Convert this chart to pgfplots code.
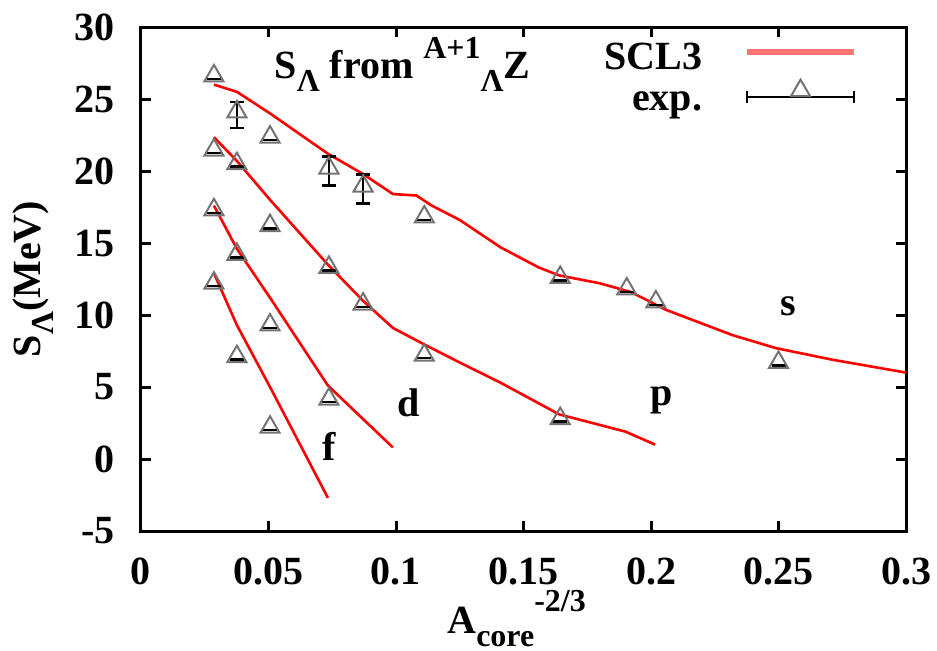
\documentclass[border=0pt]{standalone}
\usepackage{fontspec}
\setmainfont{Liberation Serif}
\usepackage{pgfplots}
\pgfplotsset{compat=1.18}
\usepackage{pgfplotstable}

% SCL3 curves for the s, p, d and f Lambda orbits
\pgfplotstableread{
x y
0.0286 26.0
0.0376 25.5
0.0506 24.0
0.0733 21.2
0.0870 19.8
0.0988 18.4
0.1080 18.3
0.1140 17.6
0.1250 16.6
0.1410 14.7
0.1560 13.3
0.1640 12.75
0.1800 12.2
0.1920 11.6
0.1960 11.25
0.2060 10.35
0.2320 8.6
0.2490 7.7
0.2710 6.9
0.3000 6.0
}\sorbit
\pgfplotstableread{
x y
0.0286 22.35
0.0376 20.7
0.0506 18.0
0.0733 13.5
0.0870 11.0
0.0988 9.1
0.1106 8.0
0.1250 6.7
0.1410 5.3
0.1640 3.1
0.1900 1.9
0.2016 1.0
}\porbit
\pgfplotstableread{
x y
0.0286 17.6
0.0376 14.6
0.0506 11.2
0.0733 5.1
0.0988 0.8
}\dorbit
\pgfplotstableread{
x y
0.0286 12.9
0.0376 9.3
0.0506 5.0
0.0733 -2.7
}\forbit

% measured separation energies with errors
\pgfplotstableread{
x y e
0.0286 26.4 0
0.0376 23.9 0.9
0.0506 22.15 0
0.0737 20.0 1.0
0.0871 18.75 1.0
0.1111 16.6 0
0.1644 12.4 0
0.1905 11.6 0
0.2019 10.7 0
0.2500 6.5 0
0.0286 21.25 0
0.0376 20.3 0
0.0506 16.0 0
0.0737 13.1 0
0.0871 10.55 0
0.1111 7.0 0
0.1644 2.6 0
0.0286 17.1 0
0.0376 14.0 0
0.0506 9.1 0
0.0737 3.95 0
0.0286 12.0 0
0.0376 6.9 0
0.0506 2.0 0
}\expdata

\newcommand{\sub}[1]{\raisebox{-6.5pt}{\fontsize{16}{16}\selectfont #1}}
\newcommand{\sups}[1]{\raisebox{10pt}{\fontsize{16}{16}\selectfont #1}}

\begin{document}
\begin{tikzpicture}[font=\fontsize{20}{24}\selectfont\bfseries]
\useasboundingbox (-70.5pt,-59.5pt) rectangle (398pt,265.5pt);
\begin{axis}[
  at={(0pt,0pt)}, anchor=south west,
  width=382.5pt, height=252pt, scale only axis,
  xmin=0, xmax=0.3, ymin=-5, ymax=30,
  xtick={0,0.05,0.1,0.15,0.2,0.25,0.3},
  xticklabels={0,0.05,0.1,0.15,0.2,0.25,0.3},
  ytick={-5,0,5,10,15,20,25,30},
  yticklabels={-5,0,5,10,15,20,25,30},
  tick align=inside, major tick length=5pt,
  every tick/.style={black, line width=1.5pt},
  axis line style={line width=1.5pt},
  xticklabel style={inner sep=0pt, anchor=north, yshift=-13pt},
  yticklabel style={inner sep=0pt, anchor=east, xshift=-13pt},
  xlabel={A\sub{core}\raisebox{11pt}{\fontsize{16}{16}\selectfont -2/3}},
  xlabel style={at={(axis description cs:0.4,0)}, anchor=base west, yshift=-51pt, inner sep=0pt},
  ylabel={S\sub{Λ}(MeV)},
  ylabel style={at={(axis description cs:-0.141,0.5)}, anchor=center, inner sep=0pt},
  legend plot pos=right,
  legend cell align=right,
  legend style={draw=none, fill=none, inner sep=0pt, outer sep=0pt,
    at={(axis description cs:0.936,0.968)}, anchor=north east,
    row sep=3.5pt, column sep=21pt, nodes={inner sep=0pt}},
]
\addplot[red, line width=1.3pt,
  legend image code/.code={\draw[red!55, line width=3pt] (0pt,3pt) -- (53.5pt,3pt);}]
  table[x=x, y=y] {\sorbit};
\addlegendentry{SCL3}
\addplot[red, line width=1.3pt, forget plot] table[x=x, y=y] {\porbit};
\addplot[red, line width=1.3pt, forget plot] table[x=x, y=y] {\dorbit};
\addplot[red, line width=1.3pt, forget plot] table[x=x, y=y] {\forbit};

\addplot[only marks, mark=triangle, mark size=5.5pt,
  mark options={draw=black!55, fill=none, line width=1pt, yshift=1.5pt},
  error bars/.cd, y dir=both, y explicit,
  error bar style={black, line width=1pt},
  error mark options={rotate=90, mark size=3.5pt, black, line width=1.2pt},
  /pgfplots/legend image code/.code={
    \draw[black, line width=1pt] (0pt,3pt) -- (53.5pt,3pt)
      (0pt,0pt) -- (0pt,6pt) (53.5pt,0pt) -- (53.5pt,6pt);
    \draw[black!55, line width=1pt] plot[mark=triangle, mark size=5.5pt] coordinates {(26.75pt,4.5pt)};
  }]
  table[x=x, y=y, y error=e] {\expdata};
\addlegendentry{exp.}

\node[anchor=base west, inner sep=0pt] at (axis cs:0.0522,26.39)
  {S\sub{Λ} from \sups{A+1}\sub{Λ}Z};
\node[anchor=base, inner sep=0pt] at (axis cs:0.2537,10.0) {s};
\node[anchor=base, inner sep=0pt] at (axis cs:0.2043,3.75) {p};
\node[anchor=base, inner sep=0pt] at (axis cs:0.1051,2.92) {d};
\node[anchor=base, inner sep=0pt] at (axis cs:0.0737,-0.07) {f};
\end{axis}
\end{tikzpicture}
\end{document}
